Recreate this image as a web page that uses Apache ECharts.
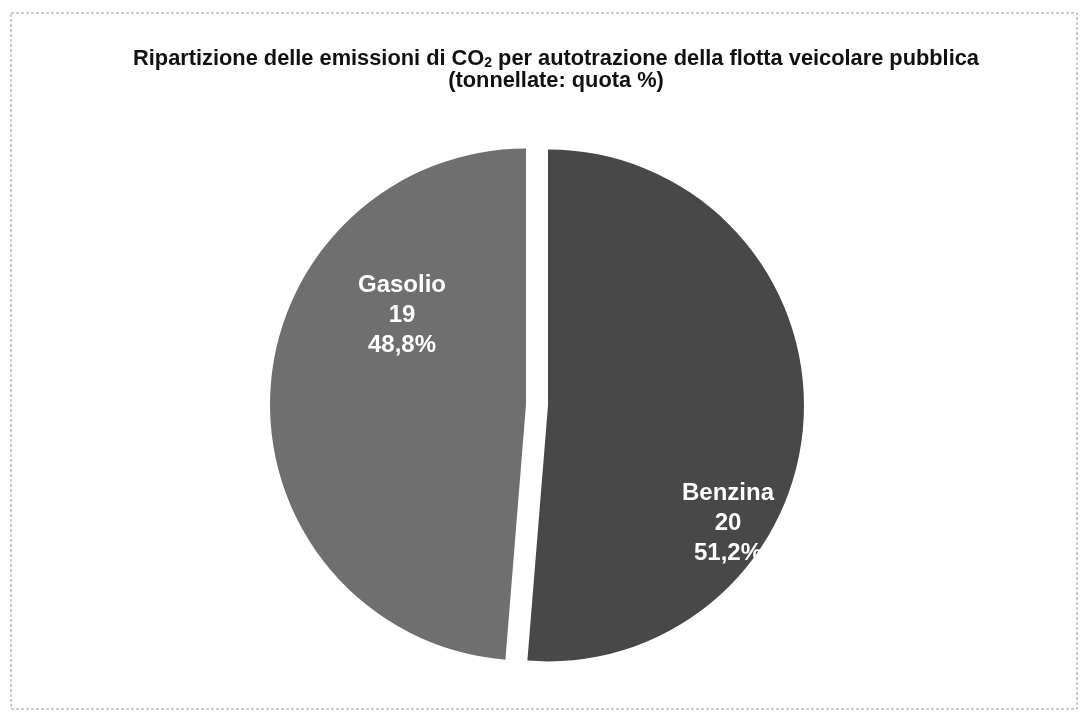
<!DOCTYPE html>
<html>
<head>
<meta charset="utf-8">
<script src="https://cdn.jsdelivr.net/npm/echarts@6/dist/echarts.min.js"></script>
<style>
    html, body { margin: 0; padding: 0; background: #fff; }
    #chart { width: 1082px; height: 724px; }
</style>
</head>
<body>
<div id="chart"></div>
<script>
// dati: tonnellate e quota %
var categorie = ['Benzina', 'Gasolio'];
var tonnellate = [20, 19];
var quote = ['51,2%', '48,8%'];
var colori = ['#484848', '#6f6f6f'];
// centro delle etichette (come nel grafico originale)
var posEtichette = [[728, 523], [402, 316]];

(function () {
    var myChart = echarts.init(document.getElementById('chart'))
    var esplodi = 11  // distacco delle fette

    var dati = categorie.map(function (c, i) {
        return {
            name: c,
            value: tonnellate[i],
            selected: true,
            itemStyle: { color: colori[i] }
        }
    })

    var option = {
        animation: false,
        title: {
            text: 'Ripartizione delle emissioni di CO{sub|2} per autotrazione della flotta veicolare pubblica\n(tonnellate: quota %)',
            left: 556,
            textAlign: 'center',
            top: 48,
            padding: 0,
            textStyle: {
                fontFamily: 'Liberation Sans',
                fontWeight: 'bold',
                fontSize: 21.8,
                lineHeight: 22,
                color: '#111',
                rich: {
                    sub: {
                        fontFamily: 'Liberation Sans',
                        fontWeight: 'bold',
                        fontSize: 14,
                        verticalAlign: 'bottom',
                        padding: [9, 0, 0, 0],
                        color: '#111'
                    }
                }
            }
        },
        graphic: [{
            type: 'rect',
            shape: { x: 11, y: 13, width: 1066, height: 696 },
            style: { fill: 'none', stroke: '#9a9a9a', lineWidth: 1, lineDash: [3, 2] },
            silent: true
        }],
        series: [{
            type: 'pie',
            center: [537, 405],
            radius: 256,
            startAngle: 90,
            clockwise: true,
            selectedMode: 'multiple',
            selectedOffset: esplodi,
            emphasis: { disabled: true },
            label: {
                show: true,
                position: 'inside',
                color: '#fff',
                fontFamily: 'Liberation Sans',
                fontWeight: 'bold',
                fontSize: 24,
                lineHeight: 30,
                align: 'center',
                formatter: function (p) {
                    return p.name + '\n' + p.value + '\n' + quote[p.dataIndex]
                }
            },
            labelLayout: function (p) {
                // labelRect non tiene conto del distacco: la fetta 0 va a destra, la 1 a sinistra
                var pos = posEtichette[p.dataIndex]
                var r = p.labelRect
                var sx = p.dataIndex === 0 ? esplodi : -esplodi
                return {
                    dx: pos[0] - sx - (r.x + r.width / 2),
                    dy: pos[1] - (r.y + r.height / 2)
                }
            },
            labelLine: { show: false },
            data: dati
        }]
    }

    myChart.setOption(option)
}());
</script>
</body>
</html>
